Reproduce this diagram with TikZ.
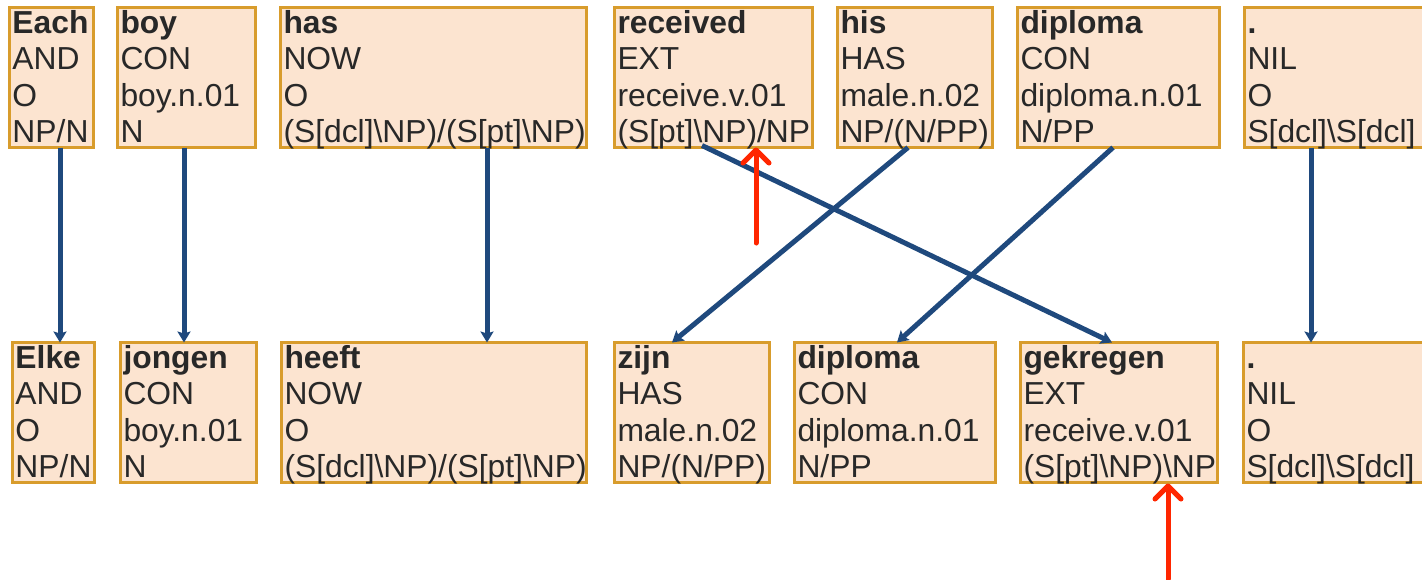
\documentclass[tikz,border=0pt]{standalone}
\usepackage{fontspec}
\setmainfont{Liberation Sans}
\usetikzlibrary{arrows.meta}

\definecolor{boxline}{RGB}{216,156,44}
\definecolor{boxfill}{RGB}{252,228,208}
\definecolor{ink}{RGB}{40,40,40}
\definecolor{linknavy}{RGB}{31,73,125}
\definecolor{markred}{RGB}{255,38,0}

\newcommand\tokfont{\fontsize{31.8pt}{36.3pt}\selectfont}

\tikzset{
  tok/.style={draw=boxline, fill=boxfill, line width=3pt, anchor=north west,
    inner xsep=3pt, inner ysep=0pt, outer sep=0pt, align=left,
    text height=26pt, text depth=114pt, font=\tokfont, text=ink},
  link/.style={draw=linknavy, line width=5pt,
    -{Stealth[length=11pt,width=13pt,inset=2pt]}},
  marker/.style={draw=markred, line width=5pt, line cap=round,
    -{Straight Barb[round,length=13pt,width=26pt]}}
}

\begin{document}
\begin{tikzpicture}[x=1pt,y=-1pt]
\clip (0,0) rectangle (1422,579);

% English tokens
\node[tok, text width=78pt]  (each)      at (9.5,7.5)    {\textbf{Each}\\AND\\O\\NP/N};
\node[tok, text width=132pt] (boy)       at (117.5,7.5)  {\textbf{boy}\\CON\\boy.n.01\\N};
\node[tok, text width=300pt] (has)       at (280.5,7.5)  {\textbf{has}\\NOW\\O\\(S[dcl]\textbackslash NP)/(S[pt]\textbackslash NP)};
\node[tok, text width=192pt] (received)  at (614.5,7.5)  {\textbf{received}\\EXT\\receive.v.01\\(S[pt]\textbackslash NP)/NP};
\node[tok, text width=149pt] (his)       at (837.5,7.5)  {\textbf{his}\\HAS\\male.n.02\\NP/(N/PP)};
\node[tok, text width=196pt] (diplomaEn) at (1017.5,7.5) {\textbf{diploma}\\CON\\diploma.n.01\\N/PP};
\node[tok, text width=194pt] (dotEn)     at (1244.5,7.5) {\textbf{.}\\NIL\\O\\S[dcl]\textbackslash S[dcl]};

% Dutch tokens
\node[tok, text width=76pt]  (elke)      at (12.5,342.5)   {\textbf{Elke}\\AND\\O\\NP/N};
\node[tok, text width=130pt] (jongen)    at (120.5,342.5)  {\textbf{jongen}\\CON\\boy.n.01\\N};
\node[tok, text width=299pt] (heeft)     at (281.5,342.5)  {\textbf{heeft}\\NOW\\O\\(S[dcl]\textbackslash NP)/(S[pt]\textbackslash NP)};
\node[tok, text width=149pt] (zijn)      at (614.5,342.5)  {\textbf{zijn}\\HAS\\male.n.02\\NP/(N/PP)};
\node[tok, text width=195pt] (diplomaNl) at (794.5,342.5)  {\textbf{diploma}\\CON\\diploma.n.01\\N/PP};
\node[tok, text width=191pt] (gekregen)  at (1020.5,342.5) {\textbf{gekregen}\\EXT\\receive.v.01\\(S[pt]\textbackslash NP)\textbackslash NP};
\node[tok, text width=194pt] (dotNl)     at (1243.5,342.5) {\textbf{.}\\NIL\\O\\S[dcl]\textbackslash S[dcl]};

% Alignment links
\draw[link] ([xshift=50.5pt]each.south west)      -- ([xshift=47.5pt]elke.north west);
\draw[link] ([xshift=66.5pt]boy.south west)       -- ([xshift=63.5pt]jongen.north west);
\draw[link] ([xshift=206.5pt]has.south west)      -- ([xshift=205.5pt]heeft.north west);
\draw[link] ([xshift=87.5pt,yshift=2pt]received.south west) -- ([xshift=91.5pt]gekregen.north west);
\draw[link] ([xshift=70.5pt]his.south west)       -- ([xshift=57.5pt]zijn.north west);
\draw[link] ([xshift=95.5pt]diplomaEn.south west) -- ([xshift=102.5pt]diplomaNl.north west);
\draw[link] ([xshift=66.5pt]dotEn.south west)     -- ([xshift=67.5pt]dotNl.north west);

% Markers on the differing categories
\coordinate (markA) at (756,243);
\coordinate (markB) at (1168,579);
\draw[marker] (markA) -- ([xshift=141.5pt]received.south west);
\draw[marker] (markB) -- ([xshift=147.5pt,yshift=-1pt]gekregen.south west);
\end{tikzpicture}
\end{document}
